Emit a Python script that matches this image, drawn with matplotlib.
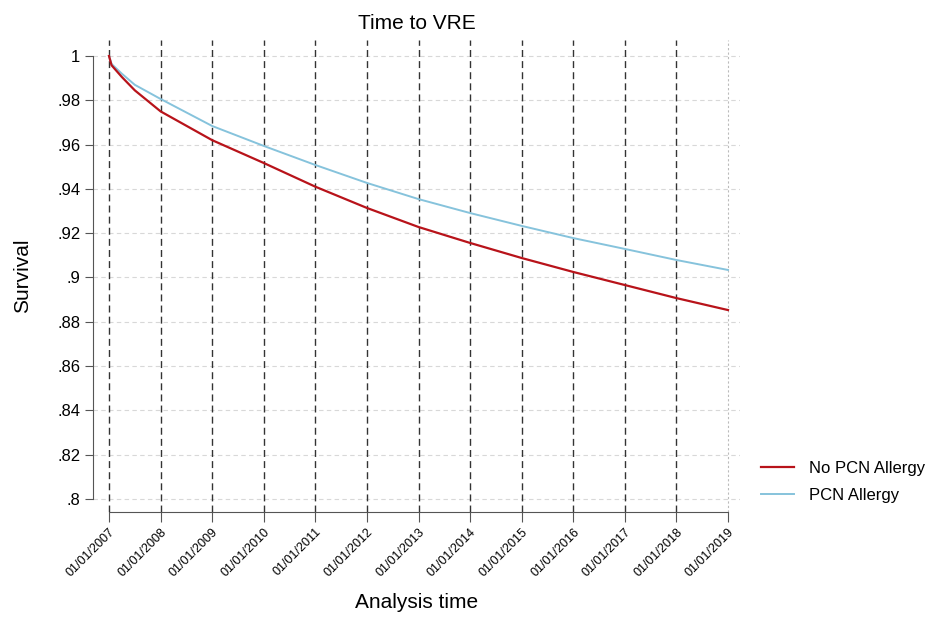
import matplotlib
matplotlib.use("Agg")
import matplotlib.pyplot as plt

plt.rcParams['font.family'] = ['Liberation Sans', 'DejaVu Sans']

# Data
years = [2007.0, 2007.05, 2007.25, 2007.5, 2008, 2009, 2010, 2011, 2012, 2013,
         2014, 2015, 2016, 2017, 2018, 2019]
no_pcn = [1.0, 0.9958, 0.9905, 0.9845, 0.975, 0.962, 0.9517, 0.941, 0.9314, 0.9228,
          0.9156, 0.9088, 0.9025, 0.8966, 0.8907, 0.8853]
pcn = [1.0, 0.9964, 0.9920, 0.9870, 0.9806, 0.9684, 0.9594, 0.9508, 0.9427, 0.9354,
       0.9291, 0.9233, 0.9178, 0.9129, 0.9079, 0.9034]
tick_years = list(range(2007, 2020))
tick_labels = ["01/01/%d" % y for y in tick_years]
y_ticks = [0.8, 0.82, 0.84, 0.86, 0.88, 0.9, 0.92, 0.94, 0.96, 0.98, 1.0]
y_labels = [".8", ".82", ".84", ".86", ".88", ".9", ".92", ".94", ".96", ".98", "1"]

W, H = 942, 622
fig = plt.figure(figsize=(W / 100, H / 100), dpi=100)
left, right, top, bottom = 93, 740, 40, 512
ax = fig.add_axes([left / W, 1 - bottom / H, (right - left) / W, (bottom - top) / H])

pxy = 0.2 / 443
pxx = 12 / 619
ax.set_xlim(2007 - 16 * pxx, 2019 + 12 * pxx)
ax.set_ylim(0.8 - 13 * pxy, 1 + 16 * pxy)

for yv in y_ticks:
    ax.axhline(yv, color='#d8d8d8', lw=0.8, ls=(0, (4, 3)), zorder=1)
for yr in tick_years[:-1]:
    ax.axvline(yr, color='#333333', lw=1.0, ls=(0, (5, 3)), zorder=2)
ax.axvline(tick_years[-1], color='#bbbbbb', lw=0.8, ls=(0, (2, 2)), zorder=2)

ax.plot(years, no_pcn, color='#b8131a', lw=1.6, label='No PCN Allergy', zorder=4)
ax.plot(years, pcn, color='#86c3dc', lw=1.4, label='PCN Allergy', zorder=3)

for s in ['top', 'right']:
    ax.spines[s].set_visible(False)
ax.spines['left'].set_bounds(0.8, 1.0)
ax.spines['bottom'].set_bounds(2007, 2019)
ax.spines['left'].set_color('#555555')
ax.spines['bottom'].set_color('#555555')

ax.set_yticks(y_ticks)
ax.set_yticklabels(y_labels, fontsize=12)
ax.set_xticks(tick_years)
ax.set_xticklabels(tick_labels, rotation=45, ha='right', rotation_mode='anchor', fontsize=9)
ax.tick_params(axis='y', length=6, color='#555555', pad=3)
ax.tick_params(axis='x', length=7, color='#555555', pad=3)

ax.set_title("Time to VRE", fontsize=15, pad=8)
ax.set_ylabel("Survival", fontsize=15, labelpad=18)
ax.set_xlabel("Analysis time", fontsize=15, labelpad=10)

fig.legend(loc='upper left', bbox_to_anchor=(746 / W, 1 - 446 / H), frameon=False,
           fontsize=12, handlelength=2.0, labelspacing=0.7, handletextpad=0.9)

fig.savefig("out.png", dpi=100, facecolor='white')
